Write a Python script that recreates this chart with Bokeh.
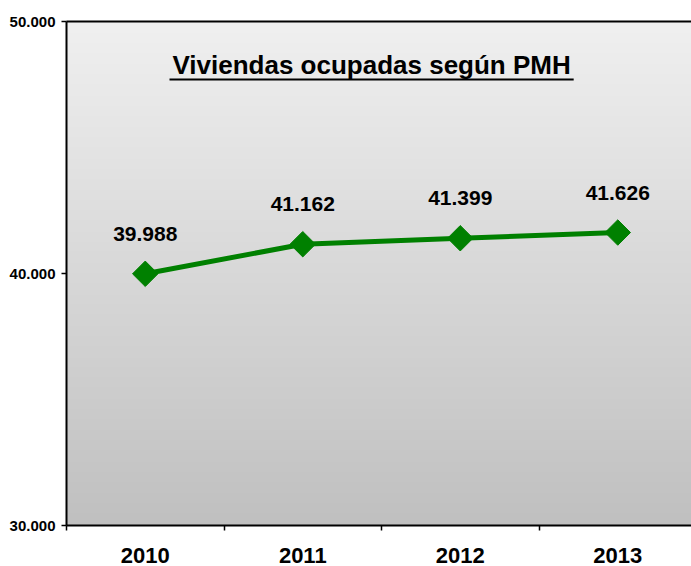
import numpy as np
from bokeh.plotting import figure
from bokeh.models import Range1d, FixedTicker, LinearAxis, BoxAnnotation, ColumnDataSource
from bokeh.embed import file_html
from bokeh.resources import INLINE
from bokeh.core.properties import value

# ---- data ----
years = ["2010", "2011", "2012", "2013"]
viviendas = [39988, 41162, 41399, 41626]
y_ticks = [30000, 40000, 50000]
y_tick_labels = ["30.000", "40.000", "50.000"]
title_text = "Viviendas ocupadas según PMH"

FONT = "Liberation Sans"
GREEN = "#008000"

xs = list(range(len(years)))
labels = [f"{v:,}".replace(",", ".") for v in viviendas]
src = ColumnDataSource(dict(x=xs, y=viviendas, label=labels))

p = figure(width=691, height=566, output_backend="svg", toolbar_location=None,
           x_range=Range1d(-0.5, 3.468), y_range=Range1d(y_ticks[0], y_ticks[-1]),
           min_border_left=66, min_border_right=0, min_border_top=21, min_border_bottom=41)
p.grid.visible = False
p.outline_line_color = None
p.background_fill_color = "white"
p.border_fill_color = "white"

# gradient background of the plot area (styling)
n = 256
img = np.empty((n, 1), dtype=np.uint32)
view = img.view(dtype=np.uint8).reshape((n, 1, 4))
t = np.linspace(0.0, 1.0, n)
g = (0xC0 + (0xF0 - 0xC0) * t).astype(np.uint8)
view[:, 0, 0] = g
view[:, 0, 1] = g
view[:, 0, 2] = g
view[:, 0, 3] = 255
p.image_rgba(image=[img], x=-0.5, y=y_ticks[0], dw=3.968, dh=y_ticks[-1] - y_ticks[0])

# series
p.line("x", "y", source=src, line_color=GREEN, line_width=5)
p.scatter("x", "y", source=src, marker="square", size=18, angle=np.pi / 4,
          fill_color=GREEN, line_color=GREEN)
p.text("x", "y", text="label", source=src, y_offset=-40, text_align="center",
       text_baseline="middle", text_font=value(FONT), text_font_style="bold",
       text_font_size="21px", text_color="black")

# title with underline
p.text(x=[1.437], y=[48254], text=[title_text], text_align="center",
       text_baseline="middle", text_font=value(FONT), text_font_style="bold",
       text_font_size="26px", text_color="black")
p.add_layout(BoxAnnotation(left=0.154, right=2.72, top=47738, bottom=47659,
                           fill_color="black", fill_alpha=1.0, line_alpha=0.0))

# x axis
xa = p.xaxis[0]
xa.ticker = FixedTicker(ticks=xs, minor_ticks=[-0.5, 0.5, 1.5, 2.5, 3.5])
xa.major_label_overrides = {i: y for i, y in zip(xs, years)}
xa.major_tick_out = 0
xa.major_tick_in = 0
xa.minor_tick_out = 5
xa.minor_tick_in = 0
xa.minor_tick_line_color = "black"
xa.minor_tick_line_width = 1.5
xa.axis_line_width = 2
xa.axis_line_color = "black"
xa.major_label_standoff = 17
xa.major_label_text_font = FONT
xa.major_label_text_font_style = "bold"
xa.major_label_text_font_size = "22px"
xa.major_label_text_color = "black"

# y axis
ya = p.yaxis[0]
ya.ticker = FixedTicker(ticks=y_ticks, minor_ticks=[])
ya.major_label_overrides = {t_: l for t_, l in zip(y_ticks, y_tick_labels)}
ya.major_tick_out = 5
ya.major_tick_in = 0
ya.minor_tick_out = 0
ya.minor_tick_in = 0
ya.major_tick_line_width = 1.5
ya.major_tick_line_color = "black"
ya.axis_line_width = 2
ya.axis_line_color = "black"
ya.major_label_standoff = 6
ya.major_label_text_font = FONT
ya.major_label_text_font_style = "bold"
ya.major_label_text_font_size = "15px"
ya.major_label_text_color = "black"

# top border line
top = LinearAxis(ticker=FixedTicker(ticks=[]), axis_line_width=2, axis_line_color="black",
                 major_tick_out=0, major_tick_in=0, minor_tick_out=0, minor_tick_in=0,
                 major_label_text_font_size="0px")
p.add_layout(top, "above")

open("out.html", "w").write(file_html(p, INLINE))
